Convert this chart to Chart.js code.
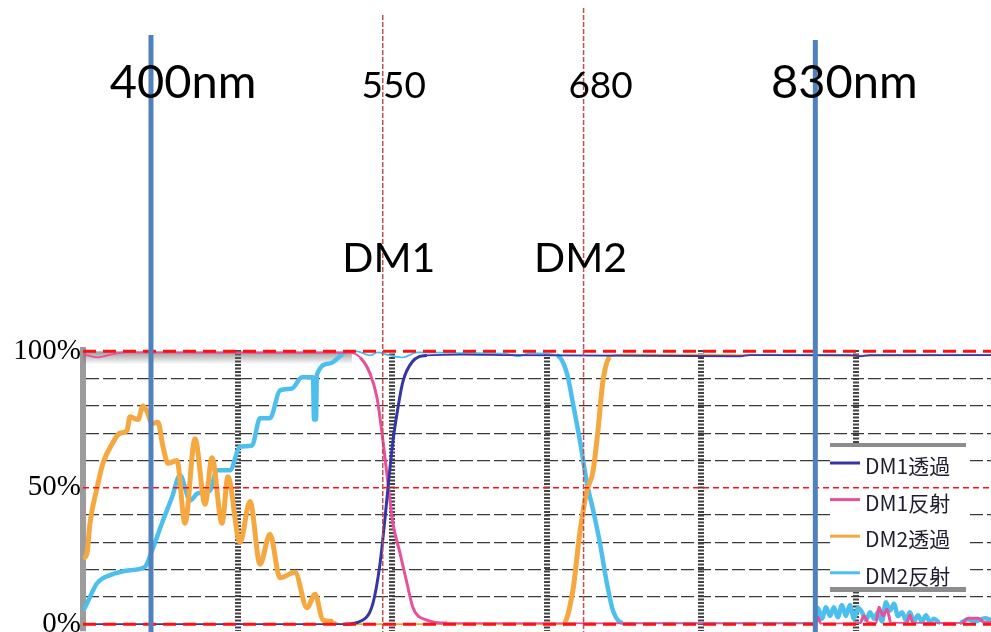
<!DOCTYPE html>
<html>
<head>
<meta charset="utf-8">
<script src="https://cdn.jsdelivr.net/npm/chart.js@4.4.1/dist/chart.umd.min.js"></script>
<style>
body {margin:0; background:#fff;}
#wrap {width:991px; height:632px;}
</style>
</head>
<body>
<div id="wrap"><canvas id="canvas" width="991" height="632"></canvas></div>
<script>
// wavelength (nm) and percent
var seriesNames = ['DM1透過', 'DM1反射', 'DM2透過', 'DM2反射'];

var dm1tNm  = [356.0, 524.3, 537.2, 543.7, 548.2, 551.5, 553.4, 556.6, 559.9, 563.1, 568.9, 578.6, 601.9, 632.4, 781.2, 787.7, 852.4, 858.9, 865.4, 943.7];
var dm1tPct = [0, 0, 1.5, 7.7, 22, 39, 50, 67, 79.5, 89, 96, 98.5, 98.8, 98.6, 98.2, 98.6, 98.6, 98.2, 98.6, 98.6];

var dm1rNm  = [356.0, 365.1, 375.4, 384.5, 464.1, 528.8, 535.3, 541.7, 546.3, 550.2, 553.4, 556.6, 561.2, 565.7, 569.6, 578.6, 591.6, 827.8, 830.4, 831.7, 833.6, 858.9, 861.5, 864.1, 869.2, 871.2, 873.8, 876.4, 878.9, 889.3, 891.2, 893.2, 924.9, 928.8, 935.3, 939.1, 943.7];
var dm1rPct = [99, 97.8, 99, 99.6, 99.5, 99.5, 97.8, 92, 83, 67, 51.6, 37, 26, 15, 6, 1.5, 0.4, 0.3, 0.3, 2.5, 0.3, 0.5, 3, 0.8, 0.5, 6.2, 3, 5.5, 0.5, 0.5, 3.3, 0.5, 0.5, 2.2, 2.2, 0.8, 0.8];

var dm2tNm  = [356.0, 358.6, 360.5, 365.1, 368.9, 374.8, 379.9, 384.5, 386.4, 391.6, 394.8, 397.4, 400.7, 404.5, 407.8, 411.0, 416.8, 422.0, 428.5, 435.0, 439.5, 446.0, 449.8, 457.6, 464.1, 470.6, 477.0, 483.5, 493.2, 501.0, 506.2, 511.3, 517.8, 522.3, 666.7, 673.1, 677.7, 682.2, 686.1, 689.3, 692.5, 697.1, 703.5, 787.7, 852.4, 943.7];
var dm2tPct = [24, 26, 37, 50, 59, 66, 70, 71, 76, 75, 80, 78, 73.6, 74, 65, 59, 60, 37, 68, 44, 61, 37, 54, 30, 45, 22, 33, 17, 19, 6, 11, 1.5, 1, 0, 0, 12.5, 34, 49, 56, 71, 89, 98, 98.8, 98.6, 98.4, 98.6];

var dm2rNm  = [356.0, 357.3, 365.1, 373.5, 386.4, 396.1, 400.7, 407.1, 413.6, 418.8, 425.3, 430.4, 438.2, 442.7, 451.1, 457.6, 465.4, 470.6, 477.0, 483.5, 491.3, 497.7, 504.9, 505.5, 506.8, 507.4, 515.9, 524.3, 533.3, 541.7, 546.9, 554.7, 563.1, 572.2, 612.9, 629.1, 637.5, 645.3, 662.8, 669.2, 673.1, 677.7, 682.2, 686.1, 690.6, 695.1, 699.0, 705.5, 829.7, 831.7, 834.3, 836.9, 839.5, 842.0, 844.6, 847.2, 849.8, 852.4, 855.0, 857.6, 860.2, 862.8, 865.4, 868.0, 870.5, 873.1, 875.7, 878.3, 880.9, 883.5, 886.1, 888.6, 891.2, 893.8, 896.4, 899.0, 901.6, 904.2, 906.8, 910.7, 923.6, 928.8, 933.3, 939.8, 943.7];
var dm2rPct = [5, 6.2, 15, 18, 19.8, 21, 27, 37, 46.5, 54.6, 45.4, 48, 49, 56.4, 56.4, 65, 65.5, 75.5, 75.5, 85.7, 86.4, 90.5, 90.5, 75, 75, 91.5, 95.6, 99, 100, 98.5, 99.6, 98.5, 97.8, 99.6, 99.3, 99.2, 98.2, 99.3, 98.5, 92, 81, 67, 51.6, 42, 29.6, 15, 5, 0.4, 0.5, 5.9, 2, 6.2, 3, 6.2, 2.5, 7, 3, 7, 2, 6, 4.4, 1.5, 4.4, 2, 4.4, 1, 8, 5, 7.5, 3, 4.4, 1.5, 4.4, 1, 3.3, 1, 3.3, 0.8, 2, 0.5, 0.5, 1.8, 1, 2.2, 1.5];

var yTicks = [0, 10, 20, 30, 40, 50, 60, 70, 80, 90, 100];
var xGrid = [356, 456, 556, 656, 756, 856];
var bandNm = [400, 830];          // solid blue markers
var bandText = ['400nm', '830nm'];
var mirrorNm = [550, 680];        // dashed red markers
var mirrorText = ['550', '680'];
var mirrorName = ['DM1', 'DM2'];
var redPct = [0, 50, 100];

function pairs(nm, pct) {
  var out = [];
  for (var i = 0; i < nm.length; i++) out.push({x: nm[i], y: pct[i]});
  return out;
}
function segWidth(wide) {
  return function(c) {
    var a = c.p0.parsed.y, b = c.p1.parsed.y;
    if ((a > 96.5 && b > 96.5) || (a < 1.2 && b < 1.2)) return 1.8;
    return wide;
  };
}

var overlay = {
  id: 'overlay',
  beforeDatasetsDraw: function(chart) {
    var ctx = chart.ctx, a = chart.chartArea, xs = chart.scales.x, ys = chart.scales.y;
    // grey shadow under the top border on the left part
    var y0 = ys.getPixelForValue(100);
    var g = ctx.createLinearGradient(0, y0, 0, y0 + 13);
    g.addColorStop(0, 'rgba(110,110,110,0.7)');
    g.addColorStop(1, 'rgba(110,110,110,0)');
    ctx.save();
    ctx.fillStyle = g;
    ctx.fillRect(a.left, y0, xs.getPixelForValue(530) - a.left, 13);
    ctx.restore();
  },
  afterDatasetsDraw: function(chart) {
    var ctx = chart.ctx, a = chart.chartArea, xs = chart.scales.x, ys = chart.scales.y;
    var H = chart.height;
    ctx.save();

    // legend box
    var lx = 830, ly = 443, lw = 136, lh = 149;
    ctx.fillStyle = '#fff';
    ctx.fillRect(lx, ly, lw, lh);
    ctx.fillStyle = '#8c8c8c';
    ctx.fillRect(lx, ly, lw, 4);
    ctx.fillRect(lx, ly + lh - 5, lw, 5);
    chart.data.datasets.forEach(function(ds, i) {
      var y = 463 + i * 36.6;
      ctx.strokeStyle = ds.borderColor;
      ctx.lineWidth = 3;
      ctx.setLineDash([]);
      ctx.beginPath(); ctx.moveTo(lx, y); ctx.lineTo(lx + 30, y); ctx.stroke();
      ctx.fillStyle = '#1e1e30';
      ctx.font = '21px "Noto Sans CJK JP"';
      ctx.textBaseline = 'middle';
      ctx.textAlign = 'left';
      ctx.fillText(ds.label, lx + 35, y + 3);
    });

    // red reference lines at 0 / 50 / 100 %
    ctx.strokeStyle = '#ff1010';
    redPct.forEach(function(p) {
      var y = ys.getPixelForValue(p);
      ctx.lineWidth = p === 50 ? 1.5 : 3;
      ctx.setLineDash(p === 50 ? [6, 4] : [13, 7]);
      ctx.beginPath(); ctx.moveTo(a.left, y); ctx.lineTo(a.right, y); ctx.stroke();
    });

    // red dashed DM markers
    var mTop = [15, 8];
    ctx.strokeStyle = '#c0504d';
    ctx.lineWidth = 1.5;
    ctx.setLineDash([5, 2]);
    mirrorNm.forEach(function(v, i) {
      var x = xs.getPixelForValue(v);
      ctx.beginPath(); ctx.moveTo(x, mTop[i]); ctx.lineTo(x, H); ctx.stroke();
    });

    // blue band edges
    var bTop = [35, 40];
    ctx.setLineDash([]);
    ctx.strokeStyle = '#4f81bd';
    ctx.lineWidth = 5;
    bandNm.forEach(function(v, i) {
      var x = xs.getPixelForValue(v);
      ctx.beginPath(); ctx.moveTo(x, bTop[i]); ctx.lineTo(x, H); ctx.stroke();
    });

    // texts
    ctx.fillStyle = '#000';
    ctx.textAlign = 'center';
    ctx.textBaseline = 'alphabetic';
    var bDx = [32, 29];
    ctx.font = '47px Lato';
    bandNm.forEach(function(v, i) {
      ctx.fillText(bandText[i], xs.getPixelForValue(v) + bDx[i], 98);
    });
    var mDx = [11, 17], nDx = [6, -3];
    mirrorNm.forEach(function(v, i) {
      var x = xs.getPixelForValue(v);
      ctx.font = '37px Lato';
      ctx.fillText(mirrorText[i], x + mDx[i], 98);
      ctx.font = '41px Lato';
      ctx.fillText(mirrorName[i], x + nDx[i], 272);
    });
    ctx.restore();
  }
};

var colors = ['#3535a5', '#e8509a', '#f5a840', '#4cbfee'];
var widths = [3, 3, 5, 4.5];
var sets = [pairs(dm1tNm, dm1tPct), pairs(dm1rNm, dm1rPct), pairs(dm2tNm, dm2tPct), pairs(dm2rNm, dm2rPct)];

var ctx = document.getElementById('canvas').getContext('2d');
new Chart(ctx, {
  type: 'line',
  data: {
    datasets: sets.map(function(d, i) {
      return {
        label: seriesNames[i],
        data: d,
        borderColor: colors[i],
        backgroundColor: colors[i],
        borderWidth: widths[i],
        pointRadius: 0,
        cubicInterpolationMode: 'monotone',
        segment: {borderWidth: segWidth(widths[i])}
      };
    })
  },
  options: {
    responsive: false,
    animation: false,
    layout: {padding: {top: 350, bottom: 1, left: 0, right: 0}},
    plugins: {legend: {display: false}, tooltip: {enabled: false}},
    scales: {
      x: {
        type: 'linear',
        min: 356,
        max: 943.7,
        afterBuildTicks: function(s) { s.ticks = xGrid.map(function(v) { return {value: v}; }); },
        ticks: {display: false, autoSkip: false},
        grid: {
          drawTicks: false,
          lineWidth: 6,
          color: function(c) { return c.index === 0 ? 'rgba(0,0,0,0)' : 'rgba(20,20,20,0.8)'; }
        },
        border: {display: false, dash: [2, 1.5]}
      },
      y: {
        min: -2.5,
        max: 100.5,
        afterBuildTicks: function(s) { s.ticks = yTicks.map(function(v) { return {value: v}; }); },
        afterFit: function(s) { s.width = 83; s.paddingTop = 0; s.paddingBottom = 0; },
        ticks: {
          autoSkip: false,
          padding: 2,
          color: '#000',
          font: {family: 'Liberation Serif', size: 29},
          callback: function(v) { return v % 50 === 0 ? v + '%' : ''; }
        },
        grid: {
          drawTicks: false,
          lineWidth: 1.2,
          color: function(c) { return (c.tick && c.tick.value % 50 === 0) ? 'rgba(0,0,0,0)' : '#3a3a3a'; }
        },
        border: {display: true, color: '#9c9c9c', width: 6, dash: [13, 4]}
      }
    }
  },
  plugins: [overlay]
});
</script>
</body>
</html>
